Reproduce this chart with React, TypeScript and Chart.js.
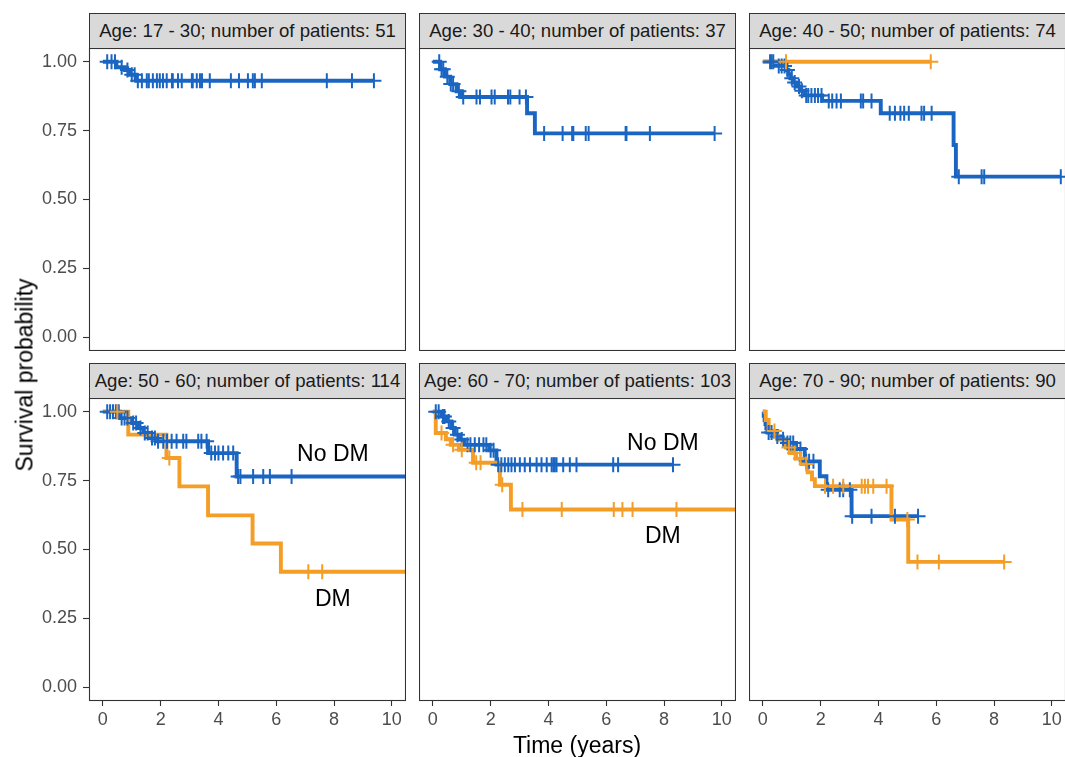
import React, { useEffect, useRef } from 'react';
import { Chart, registerables } from 'chart.js';
Chart.register(...registerables);

const BLUE = '#1A65C2';
const ORANGE = '#F49D27';
const FONT = '"Liberation Sans", Arial, Helvetica, sans-serif';

// ---------- tick labels ----------
const yTicks = [0, 0.25, 0.5, 0.75, 1];
const xTicks = [0, 2, 4, 6, 8, 10];

// ---------- strip titles ----------
const stripTitles = [
  'Age: 17 - 30; number of patients: 51',
  'Age: 30 - 40; number of patients: 37',
  'Age: 40 - 50; number of patients: 74',
  'Age: 50 - 60; number of patients: 114',
  'Age: 60 - 70; number of patients: 103',
  'Age: 70 - 90; number of patients: 90',
];

// ---------- Panel 1: 17-30 ----------
const p1NoDmTimes = [0, 0.47, 0.76, 0.93, 1.16, 9.38];
const p1NoDmSurv = [1, 0.98, 0.97, 0.953, 0.931, 0.931];
const p1NoDmCensor = [0.15, 0.3, 0.42, 0.65, 0.85, 1.0, 1.1, 1.21, 1.35, 1.52, 1.59, 1.73, 1.87, 1.97, 2.08, 2.21, 2.39, 2.42, 2.6, 2.73, 3.08, 3.11, 3.25, 3.36, 3.43, 3.7, 4.43, 4.71, 5.02, 5.19, 5.26, 5.5, 7.75, 8.62, 9.38];

// ---------- Panel 2: 30-40 ----------
const p2NoDmTimes = [0, 0.25, 0.42, 0.6, 0.82, 0.98, 3.26, 3.53, 9.75];
const p2NoDmSurv = [1, 0.973, 0.946, 0.919, 0.893, 0.872, 0.813, 0.74, 0.74];
const p2NoDmCensor = [0.22, 0.3, 0.36, 0.5, 0.62, 0.7, 0.9, 1.05, 1.51, 1.63, 2.03, 2.14, 2.6, 2.68, 3.0, 3.22, 3.85, 4.49, 4.82, 4.86, 5.29, 5.39, 6.67, 6.7, 7.51, 9.75];

// ---------- Panel 3: 40-50 ----------
const p3NoDmTimes = [0, 0.45, 0.8, 0.88, 0.95, 1.05, 1.15, 1.3, 1.45, 2.05, 4.08, 6.6, 6.68, 10.31];
const p3NoDmSurv = [1, 0.985, 0.97, 0.955, 0.94, 0.925, 0.91, 0.895, 0.878, 0.858, 0.813, 0.698, 0.583, 0.583];
const p3NoDmCensor = [0.25, 0.3, 0.36, 0.55, 0.65, 0.75, 0.85, 1.0, 1.1, 1.25, 1.35, 1.5, 1.57, 1.68, 1.8, 1.91, 2.03, 2.28, 2.4, 2.55, 2.7, 3.39, 3.47, 3.76, 4.39, 4.57, 4.76, 4.89, 5.05, 5.49, 5.58, 5.84, 6.78, 7.57, 7.66, 10.31];
const p3DmTimes = [0, 5.81];
const p3DmSurv = [1, 1];
const p3DmCensor = [0.8, 5.81];

// ---------- Panel 4: 50-60 ----------
const p4NoDmTimes = [0, 0.59, 0.99, 1.22, 1.4, 1.63, 1.86, 3.64, 4.63, 11];
const p4NoDmSurv = [1, 0.977, 0.959, 0.941, 0.923, 0.905, 0.893, 0.85, 0.765, 0.765];
const p4NoDmCensor = [0.15, 0.25, 0.35, 0.45, 0.55, 0.65, 0.75, 0.85, 1.05, 1.15, 1.3, 1.45, 1.55, 1.7, 1.8, 1.91, 2.09, 2.22, 2.38, 2.55, 2.78, 2.89, 3.3, 3.41, 3.59, 3.75, 3.88, 4.0, 4.16, 4.34, 4.51, 4.68, 4.76, 5.2, 5.55, 5.78, 6.53];
const p4DmTimes = [0, 0.88, 2.2, 2.65, 3.64, 5.18, 6.16, 11];
const p4DmSurv = [1, 0.917, 0.832, 0.729, 0.624, 0.522, 0.419, 0.419];
const p4DmCensor = [0.5, 2.3, 7.11, 7.59];

// ---------- Panel 5: 60-70 ----------
const p5NoDmTimes = [0, 0.3, 0.47, 0.64, 0.76, 0.93, 1.1, 1.95, 2.2, 8.31];
const p5NoDmSurv = [1, 0.983, 0.965, 0.941, 0.917, 0.899, 0.88, 0.86, 0.808, 0.808];
const p5NoDmCensor = [0.1, 0.2, 0.35, 0.4, 0.55, 0.7, 0.85, 1.0, 1.2, 1.3, 1.45, 1.6, 1.75, 1.85, 2.0, 2.1, 2.26, 2.37, 2.49, 2.61, 2.72, 2.84, 3.01, 3.18, 3.36, 3.59, 3.76, 3.94, 4.11, 4.17, 4.22, 4.28, 4.51, 4.74, 4.97, 6.24, 6.41, 8.31];
const p5DmTimes = [0, 0.1, 0.45, 0.62, 0.9, 1.39, 2.32, 2.7, 11];
const p5DmSurv = [1, 0.923, 0.9, 0.88, 0.862, 0.815, 0.735, 0.645, 0.645];
const p5DmCensor = [0.3, 0.7, 1.0, 1.5, 1.65, 2.4, 3.1, 4.46, 6.26, 6.56, 6.91, 8.43];

// ---------- Panel 6: 70-90 ----------
const p6NoDmTimes = [0, 0.03, 0.06, 0.09, 0.12, 0.16, 0.4, 0.6, 0.8, 1.15, 1.45, 1.97, 2.2, 3.07, 5.37];
const p6NoDmSurv = [1, 0.985, 0.97, 0.955, 0.94, 0.925, 0.91, 0.9, 0.887, 0.865, 0.82, 0.766, 0.717, 0.621, 0.621];
const p6NoDmCensor = [0.2, 0.3, 0.5, 0.7, 0.85, 0.95, 1.05, 1.3, 1.5, 1.6, 1.75, 2.26, 2.66, 2.78, 3.01, 3.09, 3.76, 4.57, 5.37];
const p6DmTimes = [0, 0.1, 0.2, 0.5, 0.8, 1.0, 1.15, 1.35, 1.55, 1.7, 1.8, 4.45, 5.03, 8.35];
const p6DmSurv = [1, 0.97, 0.93, 0.9, 0.87, 0.85, 0.83, 0.81, 0.78, 0.755, 0.73, 0.609, 0.455, 0.455];
const p6DmCensor = [0.4, 0.9, 1.1, 1.3, 1.5, 2.15, 2.43, 2.78, 3.42, 3.53, 3.64, 3.82, 4.28, 5.0, 5.35, 6.09, 8.35];

// ---------- curve labels (data coordinates) ----------
const p4Labels = [
  { text: 'No DM', t: 7.96, s: 0.844 },
  { text: 'DM', t: 7.96, s: 0.319 },
];
const p5Labels = [
  { text: 'No DM', t: 7.96, s: 0.884 },
  { text: 'DM', t: 7.96, s: 0.547 },
];

type Curve = { times: number[]; surv: number[]; censor: number[]; color: string };
type PanelDef = { curves: Curve[]; labels: { text: string; t: number; s: number }[] };

const panels: PanelDef[] = [
  { curves: [{ times: p1NoDmTimes, surv: p1NoDmSurv, censor: p1NoDmCensor, color: BLUE }], labels: [] },
  { curves: [{ times: p2NoDmTimes, surv: p2NoDmSurv, censor: p2NoDmCensor, color: BLUE }], labels: [] },
  {
    curves: [
      { times: p3NoDmTimes, surv: p3NoDmSurv, censor: p3NoDmCensor, color: BLUE },
      { times: p3DmTimes, surv: p3DmSurv, censor: p3DmCensor, color: ORANGE },
    ],
    labels: [],
  },
  {
    curves: [
      { times: p4NoDmTimes, surv: p4NoDmSurv, censor: p4NoDmCensor, color: BLUE },
      { times: p4DmTimes, surv: p4DmSurv, censor: p4DmCensor, color: ORANGE },
    ],
    labels: p4Labels,
  },
  {
    curves: [
      { times: p5NoDmTimes, surv: p5NoDmSurv, censor: p5NoDmCensor, color: BLUE },
      { times: p5DmTimes, surv: p5DmSurv, censor: p5DmCensor, color: ORANGE },
    ],
    labels: p5Labels,
  },
  {
    curves: [
      { times: p6NoDmTimes, surv: p6NoDmSurv, censor: p6NoDmCensor, color: BLUE },
      { times: p6DmTimes, surv: p6DmSurv, censor: p6DmCensor, color: ORANGE },
    ],
    labels: [],
  },
];

// layout
const COL_LEFT = [89, 419, 749];
const ROW_TOP = [48, 398];
const PLOT_W = 317;
const PLOT_H = 303;
const Y_AXIS_W = 89;
const X_AXIS_H = 42;
const STRIP_H = 35;
const X_MIN = -0.48;
const X_MAX = 10.49;
const Y_MIN = -0.05;
const Y_MAX = 1.05;

function survAt(times: number[], surv: number[], t: number) {
  let s = surv[0];
  for (let i = 0; i < times.length; i++) if (times[i] <= t) s = surv[i];
  return s;
}

const framePlugin = {
  id: 'frame',
  afterDraw(chart: any) {
    const { ctx, chartArea } = chart;
    ctx.save();
    ctx.strokeStyle = '#333333';
    ctx.lineWidth = 1.1;
    ctx.strokeRect(chartArea.left + 0.5, chartArea.top + 0.5, chartArea.right - chartArea.left - 1, chartArea.bottom - chartArea.top - 1);
    ctx.restore();
  },
};

function zeroPadding(s: any) {
  s.paddingTop = 0;
  s.paddingBottom = 0;
  s.paddingLeft = 0;
  s.paddingRight = 0;
}

function Panel({ idx }: { idx: number }) {
  const ref = useRef<HTMLCanvasElement | null>(null);
  const col = idx % 3;
  const row = Math.floor(idx / 3);
  const showY = col === 0;
  const showX = row === 1;
  const left = showY ? COL_LEFT[col] - Y_AXIS_W : COL_LEFT[col];
  const width = showY ? PLOT_W + Y_AXIS_W : PLOT_W;
  const top = ROW_TOP[row];
  const height = showX ? PLOT_H + X_AXIS_H : PLOT_H;

  useEffect(() => {
    const def = panels[idx];
    const datasets: any[] = [];
    def.curves.forEach((c, ci) => {
      datasets.push({
        data: c.times.map((t, i) => ({ x: t, y: c.surv[i] })),
        borderColor: c.color,
        borderWidth: 3.9,
        stepped: true,
        pointRadius: 0,
        fill: false,
        clip: 0,
        order: 20 - ci,
      });
    });
    def.curves.forEach((c, ci) => {
      datasets.push({
        data: c.censor.map((t) => ({ x: t, y: survAt(c.times, c.surv, t) })),
        showLine: false,
        pointStyle: 'cross',
        pointRadius: 7.5,
        pointBorderWidth: 2,
        pointBorderColor: c.color,
        pointBackgroundColor: c.color,
        borderColor: c.color,
        clip: false,
        order: 10 - ci,
      });
    });

    const labelPlugin = {
      id: 'curveLabels',
      afterDatasetsDraw(chart: any) {
        const { ctx } = chart;
        const xs = chart.scales.x;
        const ys = chart.scales.y;
        ctx.save();
        ctx.fillStyle = '#000000';
        ctx.font = `23px ${FONT}`;
        ctx.textAlign = 'center';
        ctx.textBaseline = 'middle';
        def.labels.forEach((l) => {
          ctx.fillText(l.text, xs.getPixelForValue(l.t), ys.getPixelForValue(l.s));
        });
        ctx.restore();
      },
    };

    const tickGrid = {
      display: true,
      drawOnChartArea: false,
      drawTicks: true,
      tickLength: 6,
      tickColor: '#333333',
      tickWidth: 1.1,
    };

    const xScale: any = {
      type: 'linear',
      min: X_MIN,
      max: X_MAX,
      display: showX,
      afterBuildTicks: (s: any) => {
        s.ticks = xTicks.map((v) => ({ value: v }));
      },
      afterFit: (s: any) => {
        zeroPadding(s);
        if (showX) s.height = X_AXIS_H;
      },
      ticks: {
        autoSkip: false,
        maxRotation: 0,
        padding: 3,
        color: '#4D4D4D',
        font: { family: FONT, size: 18 },
        callback: (v: any) => String(v),
      },
      grid: { ...tickGrid, tickLength: 5 },
      border: { display: false },
    };

    const yScale: any = {
      type: 'linear',
      min: Y_MIN,
      max: Y_MAX,
      display: showY,
      afterBuildTicks: (s: any) => {
        s.ticks = yTicks.map((v) => ({ value: v }));
      },
      afterFit: (s: any) => {
        zeroPadding(s);
        if (showY) s.width = Y_AXIS_W;
      },
      ticks: {
        autoSkip: false,
        padding: 6,
        color: '#4D4D4D',
        font: { family: FONT, size: 18 },
        callback: (v: any) => Number(v).toFixed(2),
      },
      grid: tickGrid,
      border: { display: false },
    };

    const chart = new Chart(ref.current as HTMLCanvasElement, {
      type: 'line',
      data: { datasets },
      options: {
        animation: false,
        responsive: false,
        maintainAspectRatio: false,
        events: [],
        layout: { padding: 0, autoPadding: false },
        plugins: { legend: { display: false }, tooltip: { enabled: false } },
        scales: { x: xScale, y: yScale },
      } as any,
      plugins: [framePlugin, labelPlugin],
    });
    return () => chart.destroy();
  }, [idx]);

  return (
    <>
      <div
        style={{
          position: 'absolute',
          left: COL_LEFT[col],
          top: ROW_TOP[row] - STRIP_H,
          width: PLOT_W,
          height: STRIP_H + 1,
          boxSizing: 'border-box',
          border: '1.1px solid #333333',
          background: '#D9D9D9',
          display: 'flex',
          alignItems: 'center',
          justifyContent: 'center',
          fontFamily: FONT,
          fontSize: 18.6,
          color: '#1A1A1A',
          whiteSpace: 'nowrap',
        }}
      >
        {stripTitles[idx]}
      </div>
      <canvas
        ref={ref}
        width={width}
        height={height}
        style={{ position: 'absolute', left, top, width, height }}
      />
    </>
  );
}

export default function App() {
  return (
    <div
      style={{
        position: 'fixed',
        left: 0,
        top: 0,
        width: 1065,
        height: 757,
        overflow: 'hidden',
        background: '#FFFFFF',
        fontFamily: FONT,
      }}
    >
      {panels.map((_, i) => (
        <Panel key={i} idx={i} />
      ))}
      <div
        style={{
          position: 'absolute',
          left: 577,
          top: 745,
          transform: 'translate(-50%, -50%)',
          fontSize: 23,
          color: '#000000',
          whiteSpace: 'nowrap',
        }}
      >
        Time (years)
      </div>
      <div
        style={{
          position: 'absolute',
          left: 25,
          top: 375,
          transform: 'translate(-50%, -50%) rotate(-90deg)',
          fontSize: 23,
          color: '#000000',
          whiteSpace: 'nowrap',
        }}
      >
        Survival probability
      </div>
    </div>
  );
}
